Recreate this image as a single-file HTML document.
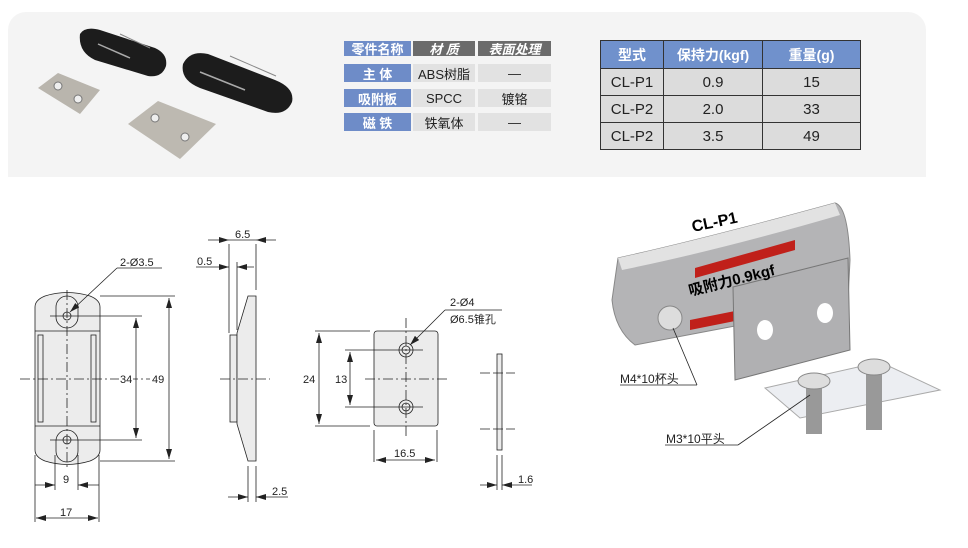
<!DOCTYPE html>
<html><head><meta charset="utf-8"><style>
body{margin:0;width:968px;height:548px;background:#fff;overflow:hidden;position:relative;font-family:"Liberation Sans","Noto Sans CJK SC",sans-serif}
.panel{position:absolute;left:8px;top:12px;width:918px;height:165px;background:#f4f4f4;border-radius:18px 18px 0 0}
.c{position:absolute;display:flex;align-items:center;justify-content:center;font-size:13px;color:#222}
.b{background:#6e8cc8;color:#fff;font-weight:bold}
.g{background:#6b6b6b;color:#fff;font-weight:bold;font-style:italic}
.l{background:#e2e2e2}
table{position:absolute;left:600px;top:40px;border-collapse:collapse;font-size:15px}
td{border:1.5px solid #333;text-align:center;color:#222;height:26px;padding:0;background:#dcdcdc}
th{border:1.5px solid #333;background:#7091cc;color:#fff;height:27px;font-size:14px;padding:0}
</style></head><body>
<div class="panel"></div>
<svg style="position:absolute;left:0;top:0" width="968" height="548">
 <defs>
  <marker id="a" viewBox="0 0 10 6" refX="10" refY="3" markerWidth="10" markerHeight="6" orient="auto-start-reverse" markerUnits="userSpaceOnUse"><path d="M0 0L10 3L0 6Z" fill="#222"/></marker>
 </defs>
 <g>
  <path d="M80 34 Q85 26 100 30 L155 48 Q168 54 166 66 Q162 78 148 76 L95 60 Q78 52 80 34Z" fill="#1c1c1c"/>
  <line x1="98" y1="44" x2="130" y2="58" stroke="#aaa" stroke-width="1.5"/>
  <line x1="120" y1="34" x2="150" y2="48" stroke="#888" stroke-width="1"/>
  <path d="M183 64 Q190 50 208 54 L275 80 Q295 88 292 102 Q286 116 268 112 L200 88 Q180 80 183 64Z" fill="#1c1c1c"/>
  <line x1="200" y1="72" x2="245" y2="90" stroke="#aaa" stroke-width="1.5"/>
  <line x1="230" y1="56" x2="276" y2="76" stroke="#888" stroke-width="1"/>
  <polygon points="38,88 58,73 100,90 80,114" fill="#b9b5ad"/>
  <circle cx="58" cy="86" r="4" fill="#eee" stroke="#777"/><circle cx="78" cy="99" r="4" fill="#eee" stroke="#777"/>
  <polygon points="128,124 158,101 216,124 180,159" fill="#bdb9b1"/>
  <circle cx="155" cy="118" r="4" fill="#eee" stroke="#777"/><circle cx="185" cy="137" r="4" fill="#eee" stroke="#777"/>
 </g>
 <g stroke="#222" stroke-width="0.8" fill="none" font-size="11">
  <path d="M35 307 Q35 300 45 296 Q67 289 90 296 Q100 300 100 307 L100 450 Q100 457 90 461 Q67 468 45 461 Q35 457 35 450Z" fill="#ececec"/>
  <line x1="35" y1="331" x2="100" y2="331"/><line x1="35" y1="426" x2="100" y2="426"/>
  <rect x="56" y="296" width="22" height="32" rx="11" /><rect x="56" y="430" width="22" height="32" rx="11"/>
  <circle cx="67" cy="316" r="4"/><circle cx="67" cy="440" r="4"/>
  <rect x="38" y="335" width="5" height="87"/><rect x="91" y="335" width="5" height="87"/>
  <line x1="20" y1="379" x2="160" y2="379" stroke-dasharray="10,3,2,3"/>
  <line x1="67" y1="290" x2="67" y2="470" stroke-dasharray="10,3,2,3"/>
  <line x1="50" y1="316" x2="142" y2="316"/><line x1="50" y1="440" x2="142" y2="440"/>
  <line x1="100" y1="296" x2="175" y2="296"/><line x1="100" y1="461" x2="175" y2="461"/>
  <line x1="136" y1="318" x2="136" y2="438" marker-start="url(#a)" marker-end="url(#a)"/>
  <line x1="169" y1="298" x2="169" y2="459" marker-start="url(#a)" marker-end="url(#a)"/>
  <line x1="35" y1="455" x2="35" y2="522"/><line x1="99" y1="455" x2="99" y2="522"/>
  <line x1="55" y1="455" x2="55" y2="490"/><line x1="78" y1="455" x2="78" y2="490"/>
  <line x1="35" y1="485" x2="55" y2="485" marker-end="url(#a)"/><line x1="99" y1="485" x2="78" y2="485" marker-end="url(#a)"/>
  <line x1="36" y1="518" x2="98" y2="518" marker-start="url(#a)" marker-end="url(#a)"/>
  <line x1="70" y1="312" x2="117" y2="268" marker-start="url(#a)"/><line x1="117" y1="268" x2="162" y2="268"/>
  <rect x="230" y="335" width="7" height="87" fill="#ececec"/>
  <path d="M248 296 L256 296 L256 461 L248 461 L237 424 L237 333Z" fill="#ececec"/>
  <line x1="229" y1="244" x2="229" y2="333"/><line x1="256" y1="244" x2="256" y2="290"/>
  <line x1="237" y1="262" x2="237" y2="330"/>
  <line x1="208" y1="240" x2="229" y2="240" marker-end="url(#a)"/><line x1="276" y1="240" x2="256" y2="240" marker-end="url(#a)"/><line x1="229" y1="240" x2="256" y2="240"/>
  <line x1="196" y1="267" x2="229" y2="267" marker-end="url(#a)"/><line x1="254" y1="267" x2="237" y2="267" marker-end="url(#a)"/>
  <line x1="220" y1="379" x2="270" y2="379" stroke-dasharray="10,3,2,3"/>
  <line x1="248" y1="466" x2="248" y2="502"/><line x1="256" y1="466" x2="256" y2="502"/>
  <line x1="228" y1="497" x2="248" y2="497" marker-end="url(#a)"/><line x1="288" y1="497" x2="256" y2="497" marker-end="url(#a)"/>
  <rect x="374" y="331" width="64" height="95" rx="3" fill="#ececec"/>
  <circle cx="406" cy="350" r="7"/><circle cx="406" cy="350" r="4"/>
  <circle cx="406" cy="407" r="7"/><circle cx="406" cy="407" r="4"/>
  <line x1="406" y1="318" x2="406" y2="438" stroke-dasharray="10,3,2,3"/>
  <line x1="365" y1="379" x2="447" y2="379" stroke-dasharray="10,3,2,3"/>
  <line x1="345" y1="350" x2="423" y2="350"/><line x1="345" y1="407" x2="423" y2="407"/>
  <line x1="315" y1="331" x2="370" y2="331"/><line x1="315" y1="426" x2="370" y2="426"/>
  <line x1="319" y1="333" x2="319" y2="424" marker-start="url(#a)" marker-end="url(#a)"/>
  <line x1="350" y1="352" x2="350" y2="405" marker-start="url(#a)" marker-end="url(#a)"/>
  <line x1="374" y1="430" x2="374" y2="462"/><line x1="437" y1="430" x2="437" y2="462"/>
  <line x1="376" y1="460" x2="435" y2="460" marker-start="url(#a)" marker-end="url(#a)"/>
  <line x1="410" y1="345" x2="445" y2="310" marker-start="url(#a)"/><line x1="445" y1="310" x2="502" y2="310"/>
  <rect x="497" y="354" width="5" height="96" fill="#ececec"/>
  <line x1="480" y1="373" x2="515" y2="373" stroke-dasharray="10,3"/><line x1="480" y1="429" x2="515" y2="429" stroke-dasharray="10,3"/>
  <line x1="497" y1="455" x2="497" y2="490"/><line x1="502" y1="455" x2="502" y2="490"/>
  <line x1="480" y1="485" x2="497" y2="485" marker-end="url(#a)"/><line x1="532" y1="485" x2="502" y2="485" marker-end="url(#a)"/>
 </g>
 <g fill="#fff"><rect x="119" y="372" width="14" height="14"/><rect x="150" y="372" width="16" height="14"/><rect x="302" y="372" width="15" height="14"/><rect x="333" y="372" width="15" height="14"/></g>
 <g font-size="11" fill="#222">
  <text x="120" y="266">2-Ø3.5</text><text x="120" y="383">34</text><text x="152" y="383">49</text>
  <text x="63" y="483">9</text><text x="60" y="516">17</text>
  <text x="235" y="238">6.5</text><text x="197" y="265">0.5</text><text x="272" y="495">2.5</text>
  <text x="450" y="306">2-Ø4</text><text x="450" y="323">Ø6.5锥孔</text>
  <text x="303" y="383">24</text><text x="335" y="383">13</text><text x="394" y="457">16.5</text><text x="518" y="483">1.6</text>
 </g>
 <g>
  <path d="M618 258 Q700 240 835 203 Q848 206 850 260 L848 300 Q800 320 735 326 L635 345 Q615 330 612 300Z" fill="#b4b4b6" stroke="#888"/>
  <path d="M618 258 Q700 240 835 203 L840 215 Q720 250 622 270Z" fill="#e2e2e2"/>
  <polygon points="695,268 795,240 795,250 695,278" fill="#c0201a"/>
  <polygon points="690,320 740,310 740,320 690,330" fill="#c0201a"/>
  <polygon points="733,287 848,258 850,350 735,380" fill="#b0b0b2" stroke="#777"/>
  <ellipse cx="765" cy="330" rx="8" ry="10" fill="#fff"/><ellipse cx="825" cy="313" rx="8" ry="10" fill="#fff"/>
  <circle cx="670" cy="318" r="12" fill="#ddd" stroke="#888"/>
  <polygon points="765,388 880,362 940,390 800,418" fill="#eceef2" stroke="#aaa"/>
  <rect x="806" y="384" width="16" height="50" fill="#999"/><rect x="866" y="370" width="16" height="60" fill="#999"/>
  <ellipse cx="814" cy="381" rx="16" ry="8" fill="#ddd" stroke="#888"/><ellipse cx="874" cy="367" rx="16" ry="8" fill="#ddd" stroke="#888"/>
 </g>
 <g stroke="#222" stroke-width="0.8">
  <line x1="673" y1="328" x2="697" y2="385"/><line x1="620" y1="385" x2="697" y2="385"/>
  <line x1="810" y1="395" x2="738" y2="445"/><line x1="665" y1="445" x2="738" y2="445"/>
 </g>
 <g font-size="12" fill="#222">
  <text x="620" y="383">M4*10杯头</text><text x="666" y="443">M3*10平头</text>
 </g>
 <text x="693" y="232" font-size="16" font-weight="bold" transform="rotate(-12 693 232)">CL-P1</text>
 <text x="690" y="296" font-size="15" font-weight="bold" transform="rotate(-14 690 296)">吸附力0.9kgf</text>
</svg>
<div class="c b" style="left:344px;top:41px;width:67px;height:15px">零件名称</div>
<div class="c g" style="left:413px;top:41px;width:62px;height:15px">材 质</div>
<div class="c g" style="left:478px;top:41px;width:73px;height:15px">表面处理</div>
<div class="c b" style="left:344px;top:64px;width:67px;height:18px">主 体</div>
<div class="c l" style="left:413px;top:64px;width:62px;height:18px">ABS树脂</div>
<div class="c l" style="left:478px;top:64px;width:73px;height:18px">—</div>
<div class="c b" style="left:344px;top:89px;width:67px;height:18px">吸附板</div>
<div class="c l" style="left:413px;top:89px;width:62px;height:18px">SPCC</div>
<div class="c l" style="left:478px;top:89px;width:73px;height:18px">镀铬</div>
<div class="c b" style="left:344px;top:113px;width:67px;height:18px">磁 铁</div>
<div class="c l" style="left:413px;top:113px;width:62px;height:18px">铁氧体</div>
<div class="c l" style="left:478px;top:113px;width:73px;height:18px">—</div>
<table>
<tr><th style="width:62px">型式</th><th style="width:98px">保持力(kgf)</th><th style="width:97px">重量(g)</th></tr>
<tr><td>CL-P1</td><td>0.9</td><td>15</td></tr>
<tr><td>CL-P2</td><td>2.0</td><td>33</td></tr>
<tr><td>CL-P2</td><td>3.5</td><td>49</td></tr>
</table>
</body></html>
